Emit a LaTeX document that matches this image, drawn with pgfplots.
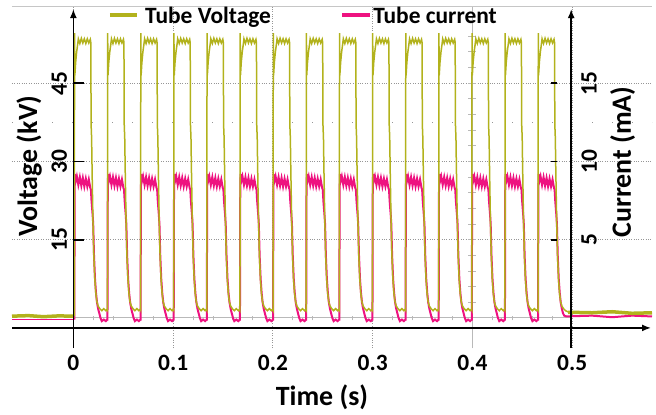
\documentclass[border=0pt]{standalone}
\usepackage{fontspec}
\setmainfont{Carlito}
\usepackage{pgfplots}
\pgfplotsset{compat=1.18}
\usetikzlibrary{arrows.meta}
\definecolor{volt}{RGB}{178,178,28}
\definecolor{curr}{RGB}{238,18,128}
\definecolor{gridc}{RGB}{150,150,150}
\begin{document}
\begin{tikzpicture}
\useasboundingbox (-12bp,-67bp) rectangle (644bp,348bp);
% ---------- current axis (mA), drawn first, carries grid and x ticks ----------
\begin{axis}[
 at={(0,0)}, anchor=south west,
 scale only axis, width=640bp, height=341bp,
 xmin=-61.5, xmax=580, ymin=-1.9167, ymax=19.8667,
 clip=false,
 axis line style={draw=none},
 major tick length=0pt,
 xtick={0,100,200,300,400,500},
 xticklabels={\textbf{0},\textbf{0.1},\textbf{0.2},\textbf{0.3},\textbf{0.4},\textbf{0.5}},
 xticklabel style={font=\fontsize{23.5}{24}\selectfont, anchor=base, yshift=-22.5bp},
 ytick={5,10,15}, yticklabels={},
 xmajorgrids, ymajorgrids,
 major grid style={gridc, line width=0.8bp, dash pattern=on 0.8bp off 1.6bp},
]
\draw[gray!45, line width=1bp] (rel axis cs:0,1) -- (rel axis cs:1,1);
\draw[gridc, line width=1bp, dash pattern=on 1bp off 19bp] (axis cs:-61.5,12.5) -- (axis cs:580,12.5);
\draw[gray!55, line width=1bp] (axis cs:0,0) -- (axis cs:500,0);
\pgfplotsinvokeforeach{20,40,...,480}{\draw[gray!55, line width=1bp] (axis cs:#1,-0.15) -- (axis cs:#1,0.15);}
\draw[gray!55, line width=1bp] (axis cs:400,-1.9167) -- (axis cs:400,19.8667);
\pgfplotsinvokeforeach{1,2,...,19}{\draw[gray!55, line width=1bp] (axis cs:396,#1) -- (axis cs:404,#1);}

\addplot[curr, line width=1.5bp] coordinates {(-61.5,-0.1)(1.0,-0.1)};
\addplot[curr, line width=2bp] coordinates {(494,0.1)(520,0.15)(540,0.05)(560,0.15)(580,0.1)};
\addplot[curr, line width=2bp] coordinates {
(1.0,-0.1)(1.3,8.2)(1.6,9.2)(2.2,8.7)(3.5,9.05)(5.0,8.5)(6.5,9.0)(8.0,8.45)(9.5,8.95)(11.0,8.4)(12.5,8.9)(14.0,8.4)(15.5,8.85)(17.0,8.3)(17.6,8.2)(18.2,7.5)(18.8,7.0)(19.3,6.6)(19.9,6.0)(20.7,4.0)(21.7,2.5)(22.7,1.6)(23.7,1.0)(24.8,0.6)(26.0,0.3)(27.2,0.0)(28.5,-0.2)(30.5,-0.1)(32.5,-0.2)(34.0,-0.1)
(34.2,-0.1)(34.5,8.2)(34.8,9.2)(35.4,8.7)(36.7,9.05)(38.2,8.5)(39.7,9.0)(41.2,8.45)(42.7,8.95)(44.2,8.4)(45.7,8.9)(47.2,8.4)(48.7,8.85)(50.2,8.3)(50.8,8.2)(51.4,7.5)(52.0,7.0)(52.5,6.6)(53.1,6.0)(53.9,4.0)(54.9,2.5)(55.9,1.6)(56.9,1.0)(58.0,0.6)(59.2,0.3)(60.4,0.0)(61.7,-0.2)(63.7,-0.1)(65.7,-0.2)(67.2,-0.1)
(67.4,-0.1)(67.7,8.2)(68.0,9.2)(68.6,8.7)(69.9,9.05)(71.4,8.5)(72.9,9.0)(74.4,8.45)(75.9,8.95)(77.4,8.4)(78.9,8.9)(80.4,8.4)(81.9,8.85)(83.4,8.3)(84.0,8.2)(84.6,7.5)(85.2,7.0)(85.7,6.6)(86.3,6.0)(87.1,4.0)(88.1,2.5)(89.1,1.6)(90.1,1.0)(91.2,0.6)(92.4,0.3)(93.6,0.0)(94.9,-0.2)(96.9,-0.1)(98.9,-0.2)(100.4,-0.1)
(100.6,-0.1)(100.9,8.2)(101.2,9.2)(101.8,8.7)(103.1,9.05)(104.6,8.5)(106.1,9.0)(107.6,8.45)(109.1,8.95)(110.6,8.4)(112.1,8.9)(113.6,8.4)(115.1,8.85)(116.6,8.3)(117.2,8.2)(117.8,7.5)(118.4,7.0)(118.9,6.6)(119.5,6.0)(120.3,4.0)(121.3,2.5)(122.3,1.6)(123.3,1.0)(124.4,0.6)(125.6,0.3)(126.8,0.0)(128.1,-0.2)(130.1,-0.1)(132.1,-0.2)(133.6,-0.1)
(133.8,-0.1)(134.1,8.2)(134.4,9.2)(135.0,8.7)(136.3,9.05)(137.8,8.5)(139.3,9.0)(140.8,8.45)(142.3,8.95)(143.8,8.4)(145.3,8.9)(146.8,8.4)(148.3,8.85)(149.8,8.3)(150.4,8.2)(151.0,7.5)(151.6,7.0)(152.1,6.6)(152.7,6.0)(153.5,4.0)(154.5,2.5)(155.5,1.6)(156.5,1.0)(157.6,0.6)(158.8,0.3)(160.0,0.0)(161.3,-0.2)(163.3,-0.1)(165.3,-0.2)(166.8,-0.1)
(167.0,-0.1)(167.3,8.2)(167.6,9.2)(168.2,8.7)(169.5,9.05)(171.0,8.5)(172.5,9.0)(174.0,8.45)(175.5,8.95)(177.0,8.4)(178.5,8.9)(180.0,8.4)(181.5,8.85)(183.0,8.3)(183.6,8.2)(184.2,7.5)(184.8,7.0)(185.3,6.6)(185.9,6.0)(186.7,4.0)(187.7,2.5)(188.7,1.6)(189.7,1.0)(190.8,0.6)(192.0,0.3)(193.2,0.0)(194.5,-0.2)(196.5,-0.1)(198.5,-0.2)(200.0,-0.1)
(200.2,-0.1)(200.5,8.2)(200.8,9.2)(201.4,8.7)(202.7,9.05)(204.2,8.5)(205.7,9.0)(207.2,8.45)(208.7,8.95)(210.2,8.4)(211.7,8.9)(213.2,8.4)(214.7,8.85)(216.2,8.3)(216.8,8.2)(217.4,7.5)(218.0,7.0)(218.5,6.6)(219.1,6.0)(219.9,4.0)(220.9,2.5)(221.9,1.6)(222.9,1.0)(224.0,0.6)(225.2,0.3)(226.4,0.0)(227.7,-0.2)(229.7,-0.1)(231.7,-0.2)(233.2,-0.1)
(233.4,-0.1)(233.7,8.2)(234.0,9.2)(234.6,8.7)(235.9,9.05)(237.4,8.5)(238.9,9.0)(240.4,8.45)(241.9,8.95)(243.4,8.4)(244.9,8.9)(246.4,8.4)(247.9,8.85)(249.4,8.3)(250.0,8.2)(250.6,7.5)(251.2,7.0)(251.7,6.6)(252.3,6.0)(253.1,4.0)(254.1,2.5)(255.1,1.6)(256.1,1.0)(257.2,0.6)(258.4,0.3)(259.6,0.0)(260.9,-0.2)(262.9,-0.1)(264.9,-0.2)(266.4,-0.1)
(266.6,-0.1)(266.9,8.2)(267.2,9.2)(267.8,8.7)(269.1,9.05)(270.6,8.5)(272.1,9.0)(273.6,8.45)(275.1,8.95)(276.6,8.4)(278.1,8.9)(279.6,8.4)(281.1,8.85)(282.6,8.3)(283.2,8.2)(283.8,7.5)(284.4,7.0)(284.9,6.6)(285.5,6.0)(286.3,4.0)(287.3,2.5)(288.3,1.6)(289.3,1.0)(290.4,0.6)(291.6,0.3)(292.8,0.0)(294.1,-0.2)(296.1,-0.1)(298.1,-0.2)(299.6,-0.1)
(299.8,-0.1)(300.1,8.2)(300.4,9.2)(301.0,8.7)(302.3,9.05)(303.8,8.5)(305.3,9.0)(306.8,8.45)(308.3,8.95)(309.8,8.4)(311.3,8.9)(312.8,8.4)(314.3,8.85)(315.8,8.3)(316.4,8.2)(317.0,7.5)(317.6,7.0)(318.1,6.6)(318.7,6.0)(319.5,4.0)(320.5,2.5)(321.5,1.6)(322.5,1.0)(323.6,0.6)(324.8,0.3)(326.0,0.0)(327.3,-0.2)(329.3,-0.1)(331.3,-0.2)(332.8,-0.1)
(333.0,-0.1)(333.3,8.2)(333.6,9.2)(334.2,8.7)(335.5,9.05)(337.0,8.5)(338.5,9.0)(340.0,8.45)(341.5,8.95)(343.0,8.4)(344.5,8.9)(346.0,8.4)(347.5,8.85)(349.0,8.3)(349.6,8.2)(350.2,7.5)(350.8,7.0)(351.3,6.6)(351.9,6.0)(352.7,4.0)(353.7,2.5)(354.7,1.6)(355.7,1.0)(356.8,0.6)(358.0,0.3)(359.2,0.0)(360.5,-0.2)(362.5,-0.1)(364.5,-0.2)(366.0,-0.1)
(366.2,-0.1)(366.5,8.2)(366.8,9.2)(367.4,8.7)(368.7,9.05)(370.2,8.5)(371.7,9.0)(373.2,8.45)(374.7,8.95)(376.2,8.4)(377.7,8.9)(379.2,8.4)(380.7,8.85)(382.2,8.3)(382.8,8.2)(383.4,7.5)(384.0,7.0)(384.5,6.6)(385.1,6.0)(385.9,4.0)(386.9,2.5)(387.9,1.6)(388.9,1.0)(390.0,0.6)(391.2,0.3)(392.4,0.0)(393.7,-0.2)(395.7,-0.1)(397.7,-0.2)(399.2,-0.1)
(399.4,-0.1)(399.7,8.2)(400.0,9.2)(400.6,8.7)(401.9,9.05)(403.4,8.5)(404.9,9.0)(406.4,8.45)(407.9,8.95)(409.4,8.4)(410.9,8.9)(412.4,8.4)(413.9,8.85)(415.4,8.3)(416.0,8.2)(416.6,7.5)(417.2,7.0)(417.7,6.6)(418.3,6.0)(419.1,4.0)(420.1,2.5)(421.1,1.6)(422.1,1.0)(423.2,0.6)(424.4,0.3)(425.6,0.0)(426.9,-0.2)(428.9,-0.1)(430.9,-0.2)(432.4,-0.1)
(432.6,-0.1)(432.9,8.2)(433.2,9.2)(433.8,8.7)(435.1,9.05)(436.6,8.5)(438.1,9.0)(439.6,8.45)(441.1,8.95)(442.6,8.4)(444.1,8.9)(445.6,8.4)(447.1,8.85)(448.6,8.3)(449.2,8.2)(449.8,7.5)(450.4,7.0)(450.9,6.6)(451.5,6.0)(452.3,4.0)(453.3,2.5)(454.3,1.6)(455.3,1.0)(456.4,0.6)(457.6,0.3)(458.8,0.0)(460.1,-0.2)(462.1,-0.1)(464.1,-0.2)(465.6,-0.1)
(465.8,-0.1)(466.1,8.2)(466.4,9.2)(467.0,8.7)(468.3,9.05)(469.8,8.5)(471.3,9.0)(472.8,8.45)(474.3,8.95)(475.8,8.4)(477.3,8.9)(478.8,8.4)(480.3,8.85)(481.8,8.3)(482.4,8.2)(483.0,7.5)(483.6,7.0)(484.1,6.6)(484.7,6.0)(485.5,4.0)(486.5,2.5)(487.5,1.6)(488.5,1.0)(489.6,0.6)(490.8,0.3)(492.0,0.15)(494,0.1)
};
\end{axis}

% ---------- voltage axis (kV), drawn on top ----------
\begin{axis}[
 at={(0,0)}, anchor=south west,
 scale only axis, width=640bp, height=341bp,
 xmin=-61.5, xmax=580, ymin=-5.75, ymax=59.6,
 clip=false, hide axis,
]
\addplot[volt, line width=3.5bp] coordinates {(-61.5,0.35)(-45,0.45)(-30,0.25)(-15,0.4)(1.0,0.35)};
\addplot[volt, line width=3.5bp] coordinates {(496,1.1)(520,1.0)(540,1.2)(560,0.9)(580,1.0)};
\addplot[volt, line width=1.5bp] coordinates {
(1.0,0.4)(1.2,54.6)(1.5,46.5)(2.3,49.0)(3.3,51.0)(4.3,52.4)(5.0,53.5)(6.5,52.6)(8.0,53.6)(9.5,52.7)(11.0,53.5)(12.5,52.6)(14.0,53.5)(15.5,52.7)(17.0,53.4)(17.5,52.8)(17.8,37.0)(18.3,34.5)(18.8,28.0)(19.6,19.0)(20.5,12.0)(21.5,7.5)(22.5,4.8)(23.5,3.2)(24.8,2.3)(26.5,1.8)(28.5,1.4)(30.5,1.8)(32.5,1.4)(34.0,1.7)
(34.2,1.6)(34.4,54.6)(34.7,46.5)(35.5,49.0)(36.5,51.0)(37.5,52.4)(38.2,53.5)(39.7,52.6)(41.2,53.6)(42.7,52.7)(44.2,53.5)(45.7,52.6)(47.2,53.5)(48.7,52.7)(50.2,53.4)(50.7,52.8)(51.0,37.0)(51.5,34.5)(52.0,28.0)(52.8,19.0)(53.7,12.0)(54.7,7.5)(55.7,4.8)(56.7,3.2)(58.0,2.3)(59.7,1.8)(61.7,1.4)(63.7,1.8)(65.7,1.4)(67.2,1.7)
(67.4,1.6)(67.6,54.6)(67.9,46.5)(68.7,49.0)(69.7,51.0)(70.7,52.4)(71.4,53.5)(72.9,52.6)(74.4,53.6)(75.9,52.7)(77.4,53.5)(78.9,52.6)(80.4,53.5)(81.9,52.7)(83.4,53.4)(83.9,52.8)(84.2,37.0)(84.7,34.5)(85.2,28.0)(86.0,19.0)(86.9,12.0)(87.9,7.5)(88.9,4.8)(89.9,3.2)(91.2,2.3)(92.9,1.8)(94.9,1.4)(96.9,1.8)(98.9,1.4)(100.4,1.7)
(100.6,1.6)(100.8,54.6)(101.1,46.5)(101.9,49.0)(102.9,51.0)(103.9,52.4)(104.6,53.5)(106.1,52.6)(107.6,53.6)(109.1,52.7)(110.6,53.5)(112.1,52.6)(113.6,53.5)(115.1,52.7)(116.6,53.4)(117.1,52.8)(117.4,37.0)(117.9,34.5)(118.4,28.0)(119.2,19.0)(120.1,12.0)(121.1,7.5)(122.1,4.8)(123.1,3.2)(124.4,2.3)(126.1,1.8)(128.1,1.4)(130.1,1.8)(132.1,1.4)(133.6,1.7)
(133.8,1.6)(134.0,54.6)(134.3,46.5)(135.1,49.0)(136.1,51.0)(137.1,52.4)(137.8,53.5)(139.3,52.6)(140.8,53.6)(142.3,52.7)(143.8,53.5)(145.3,52.6)(146.8,53.5)(148.3,52.7)(149.8,53.4)(150.3,52.8)(150.6,37.0)(151.1,34.5)(151.6,28.0)(152.4,19.0)(153.3,12.0)(154.3,7.5)(155.3,4.8)(156.3,3.2)(157.6,2.3)(159.3,1.8)(161.3,1.4)(163.3,1.8)(165.3,1.4)(166.8,1.7)
(167.0,1.6)(167.2,54.6)(167.5,46.5)(168.3,49.0)(169.3,51.0)(170.3,52.4)(171.0,53.5)(172.5,52.6)(174.0,53.6)(175.5,52.7)(177.0,53.5)(178.5,52.6)(180.0,53.5)(181.5,52.7)(183.0,53.4)(183.5,52.8)(183.8,37.0)(184.3,34.5)(184.8,28.0)(185.6,19.0)(186.5,12.0)(187.5,7.5)(188.5,4.8)(189.5,3.2)(190.8,2.3)(192.5,1.8)(194.5,1.4)(196.5,1.8)(198.5,1.4)(200.0,1.7)
(200.2,1.6)(200.4,54.6)(200.7,46.5)(201.5,49.0)(202.5,51.0)(203.5,52.4)(204.2,53.5)(205.7,52.6)(207.2,53.6)(208.7,52.7)(210.2,53.5)(211.7,52.6)(213.2,53.5)(214.7,52.7)(216.2,53.4)(216.7,52.8)(217.0,37.0)(217.5,34.5)(218.0,28.0)(218.8,19.0)(219.7,12.0)(220.7,7.5)(221.7,4.8)(222.7,3.2)(224.0,2.3)(225.7,1.8)(227.7,1.4)(229.7,1.8)(231.7,1.4)(233.2,1.7)
(233.4,1.6)(233.6,54.6)(233.9,46.5)(234.7,49.0)(235.7,51.0)(236.7,52.4)(237.4,53.5)(238.9,52.6)(240.4,53.6)(241.9,52.7)(243.4,53.5)(244.9,52.6)(246.4,53.5)(247.9,52.7)(249.4,53.4)(249.9,52.8)(250.2,37.0)(250.7,34.5)(251.2,28.0)(252.0,19.0)(252.9,12.0)(253.9,7.5)(254.9,4.8)(255.9,3.2)(257.2,2.3)(258.9,1.8)(260.9,1.4)(262.9,1.8)(264.9,1.4)(266.4,1.7)
(266.6,1.6)(266.8,54.6)(267.1,46.5)(267.9,49.0)(268.9,51.0)(269.9,52.4)(270.6,53.5)(272.1,52.6)(273.6,53.6)(275.1,52.7)(276.6,53.5)(278.1,52.6)(279.6,53.5)(281.1,52.7)(282.6,53.4)(283.1,52.8)(283.4,37.0)(283.9,34.5)(284.4,28.0)(285.2,19.0)(286.1,12.0)(287.1,7.5)(288.1,4.8)(289.1,3.2)(290.4,2.3)(292.1,1.8)(294.1,1.4)(296.1,1.8)(298.1,1.4)(299.6,1.7)
(299.8,1.6)(300.0,54.6)(300.3,46.5)(301.1,49.0)(302.1,51.0)(303.1,52.4)(303.8,53.5)(305.3,52.6)(306.8,53.6)(308.3,52.7)(309.8,53.5)(311.3,52.6)(312.8,53.5)(314.3,52.7)(315.8,53.4)(316.3,52.8)(316.6,37.0)(317.1,34.5)(317.6,28.0)(318.4,19.0)(319.3,12.0)(320.3,7.5)(321.3,4.8)(322.3,3.2)(323.6,2.3)(325.3,1.8)(327.3,1.4)(329.3,1.8)(331.3,1.4)(332.8,1.7)
(333.0,1.6)(333.2,54.6)(333.5,46.5)(334.3,49.0)(335.3,51.0)(336.3,52.4)(337.0,53.5)(338.5,52.6)(340.0,53.6)(341.5,52.7)(343.0,53.5)(344.5,52.6)(346.0,53.5)(347.5,52.7)(349.0,53.4)(349.5,52.8)(349.8,37.0)(350.3,34.5)(350.8,28.0)(351.6,19.0)(352.5,12.0)(353.5,7.5)(354.5,4.8)(355.5,3.2)(356.8,2.3)(358.5,1.8)(360.5,1.4)(362.5,1.8)(364.5,1.4)(366.0,1.7)
(366.2,1.6)(366.4,54.6)(366.7,46.5)(367.5,49.0)(368.5,51.0)(369.5,52.4)(370.2,53.5)(371.7,52.6)(373.2,53.6)(374.7,52.7)(376.2,53.5)(377.7,52.6)(379.2,53.5)(380.7,52.7)(382.2,53.4)(382.7,52.8)(383.0,37.0)(383.5,34.5)(384.0,28.0)(384.8,19.0)(385.7,12.0)(386.7,7.5)(387.7,4.8)(388.7,3.2)(390.0,2.3)(391.7,1.8)(393.7,1.4)(395.7,1.8)(397.7,1.4)(399.2,1.7)
(399.4,1.6)(399.6,54.6)(399.9,46.5)(400.7,49.0)(401.7,51.0)(402.7,52.4)(403.4,53.5)(404.9,52.6)(406.4,53.6)(407.9,52.7)(409.4,53.5)(410.9,52.6)(412.4,53.5)(413.9,52.7)(415.4,53.4)(415.9,52.8)(416.2,37.0)(416.7,34.5)(417.2,28.0)(418.0,19.0)(418.9,12.0)(419.9,7.5)(420.9,4.8)(421.9,3.2)(423.2,2.3)(424.9,1.8)(426.9,1.4)(428.9,1.8)(430.9,1.4)(432.4,1.7)
(432.6,1.6)(432.8,54.6)(433.1,46.5)(433.9,49.0)(434.9,51.0)(435.9,52.4)(436.6,53.5)(438.1,52.6)(439.6,53.6)(441.1,52.7)(442.6,53.5)(444.1,52.6)(445.6,53.5)(447.1,52.7)(448.6,53.4)(449.1,52.8)(449.4,37.0)(449.9,34.5)(450.4,28.0)(451.2,19.0)(452.1,12.0)(453.1,7.5)(454.1,4.8)(455.1,3.2)(456.4,2.3)(458.1,1.8)(460.1,1.4)(462.1,1.8)(464.1,1.4)(465.6,1.7)
(465.8,1.6)(466.0,54.6)(466.3,46.5)(467.1,49.0)(468.1,51.0)(469.1,52.4)(469.8,53.5)(471.3,52.6)(472.8,53.6)(474.3,52.7)(475.8,53.5)(477.3,52.6)(478.8,53.5)(480.3,52.7)(481.8,53.4)(482.3,52.8)(482.6,37.0)(483.1,34.5)(483.6,28.0)(484.4,19.0)(485.3,12.0)(486.3,7.5)(487.3,4.8)(488.3,3.2)(489.6,2.3)(491.3,1.8)(493.3,1.4)(495.5,1.2)(498,1.0)
};
% black scope axes
\draw[black, line width=1.6bp, -{Latex[length=9bp,width=7bp]}] (axis cs:-61.5,-1.9) -- (axis cs:579,-1.9);
\draw[black, line width=1.6bp, -{Latex[length=9bp,width=7bp]}] (axis cs:0,-5.75) -- (axis cs:0,59.2);
\draw[black, line width=1.6bp, -{Latex[length=9bp,width=7bp]}] (axis cs:499,-5.75) -- (axis cs:499,59.2);
\pgfplotsinvokeforeach{15,30,45}{
  \draw[black, line width=1.6bp] (axis cs:0,#1) -- (axis cs:11,#1);
  \draw[black, line width=1.6bp] (axis cs:479,#1) -- (axis cs:485,#1);
}
% tick labels
\node[rotate=90, font=\bfseries\fontsize{23.5}{24}\selectfont] at (axis cs:-14,45) {45};
\node[rotate=90, font=\bfseries\fontsize{23.5}{24}\selectfont] at (axis cs:-14,30) {30};
\node[rotate=90, font=\bfseries\fontsize{23.5}{24}\selectfont] at (axis cs:-14,15) {15};
\node[rotate=90, font=\bfseries\fontsize{23.5}{24}\selectfont] at (axis cs:517,45) {15};
\node[rotate=90, font=\bfseries\fontsize{23.5}{24}\selectfont] at (axis cs:517,30) {10};
\node[rotate=90, font=\bfseries\fontsize{23.5}{24}\selectfont] at (axis cs:517,15) {5};
% axis titles
\node[rotate=90, anchor=base, font=\bfseries\fontsize{28}{30}\selectfont] at (axis cs:-36.4,29.1) {Voltage (kV)};
\node[rotate=90, anchor=base, font=\bfseries\fontsize{28}{30}\selectfont] at (axis cs:558.9,29.9) {Current (mA)};
\node[anchor=base, font=\bfseries\fontsize{28}{30}\selectfont] at (axis cs:249.2,-16.7) {Time (s)};
% legend
\draw[volt, line width=4bp] (axis cs:36.7,58.1) -- (axis cs:63.8,58.1);
\node[anchor=base west, inner sep=0pt, font=\bfseries\fontsize{23.5}{24}\selectfont] at (axis cs:71.8,56.5) {Tube Voltage};
\draw[curr, line width=4bp] (axis cs:269.3,58.1) -- (axis cs:297.3,58.1);
\node[anchor=base west, inner sep=0pt, font=\bfseries\fontsize{23.5}{24}\selectfont] at (axis cs:300.4,56.5) {Tube current};
\end{axis}
\end{tikzpicture}
\end{document}
